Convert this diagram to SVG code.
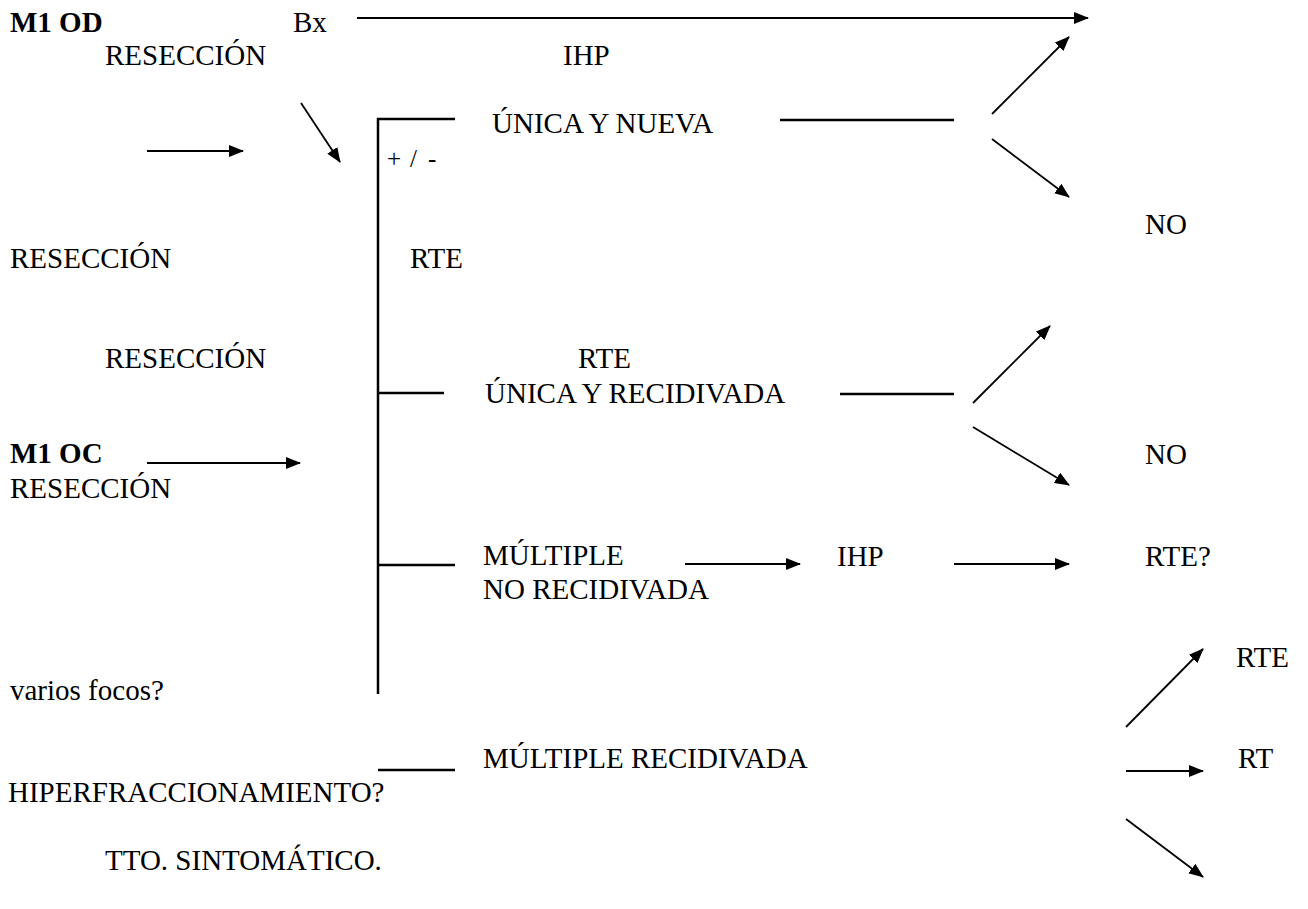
<svg xmlns="http://www.w3.org/2000/svg" width="1308" height="909" viewBox="0 0 1308 909" font-family="'Liberation Serif', 'Times New Roman', Times, serif" font-size="29">
<style>
text{font-family:'Liberation Serif','Times New Roman',Times,serif;fill:#000}
.b{font-weight:bold}
.s{font-size:25px}
.ln{stroke:#000;stroke-width:2.5;fill:none}
.ar{stroke:#000;stroke-width:1.8;fill:none;marker-end:url(#ah)}
</style>
<defs>
<marker id="ah" markerUnits="userSpaceOnUse" markerWidth="15" markerHeight="12" viewBox="0 0 15 12" refX="14" refY="6" orient="auto">
<path d="M0,0 L15,6 L0,12 Z" fill="#000"/>
</marker>
</defs>
<rect width="1308" height="909" fill="#fff"/>
<g id="n-m1od"><text x="10" y="32" class="b">M1 OD</text></g>
<g id="n-bx"><text x="293" y="32">Bx</text></g>
<g id="n-res1"><text x="105" y="65">RESECCIÓN</text></g>
<g id="n-ihp1"><text x="563" y="65">IHP</text></g>
<g id="n-unica-nueva"><text x="492" y="133">ÚNICA Y NUEVA</text></g>
<g id="n-pm"><text y="167" class="s"><tspan x="387">+</tspan><tspan x="410">/</tspan><tspan x="428">-</tspan></text></g>
<g id="n-no1"><text x="1145" y="234">NO</text></g>
<g id="n-res2"><text x="10" y="268">RESECCIÓN</text></g>
<g id="n-rte1"><text x="410" y="268">RTE</text></g>
<g id="n-res3"><text x="105" y="368">RESECCIÓN</text></g>
<g id="n-rte2"><text x="578" y="368">RTE</text></g>
<g id="n-unica-rec"><text x="485" y="403">ÚNICA Y RECIDIVADA</text></g>
<g id="n-no2"><text x="1145" y="464">NO</text></g>
<g id="n-m1oc"><text x="10" y="463" class="b">M1 OC</text></g>
<g id="n-res4"><text x="10" y="498">RESECCIÓN</text></g>
<g id="n-mult-norec"><text x="483" y="565">MÚLTIPLE</text><text x="483" y="599">NO RECIDIVADA</text></g>
<g id="n-ihp2"><text x="837" y="566">IHP</text></g>
<g id="n-rteq"><text x="1145" y="566">RTE?</text></g>
<g id="n-rte3"><text x="1236" y="667">RTE</text></g>
<g id="n-varios"><text x="10" y="700">varios focos?</text></g>
<g id="n-mult-rec"><text x="483" y="768">MÚLTIPLE RECIDIVADA</text></g>
<g id="n-rt"><text x="1238" y="768">RT</text></g>
<g id="n-hiper"><text x="8" y="802">HIPERFRACCIONAMIENTO?</text></g>
<g id="n-tto"><text x="105" y="870">TTO. SINTOMÁTICO.</text></g>
<g id="connectors">
<line class="ar" x1="357" y1="18" x2="1088" y2="18"/>
<line class="ar" x1="301" y1="103" x2="340" y2="162"/>
<line class="ar" x1="147" y1="151" x2="243" y2="151"/>
<line class="ln" x1="378" y1="118" x2="378" y2="694"/>
<line class="ln" x1="377" y1="119" x2="455" y2="119"/>
<line class="ln" x1="780" y1="120" x2="954" y2="120"/>
<line class="ar" x1="992" y1="114" x2="1069" y2="37"/>
<line class="ar" x1="992" y1="139" x2="1069" y2="197"/>
<line class="ln" x1="378" y1="393" x2="444" y2="393"/>
<line class="ln" x1="840" y1="394" x2="954" y2="394"/>
<line class="ar" x1="973" y1="403" x2="1050" y2="326"/>
<line class="ar" x1="973" y1="427" x2="1069" y2="485"/>
<line class="ar" x1="147" y1="463" x2="300" y2="463"/>
<line class="ln" x1="378" y1="565" x2="455" y2="565"/>
<line class="ar" x1="685" y1="564" x2="800" y2="564"/>
<line class="ar" x1="954" y1="564" x2="1069" y2="564"/>
<line class="ar" x1="1126" y1="727" x2="1203" y2="649"/>
<line class="ln" x1="378" y1="770" x2="455" y2="770"/>
<line class="ar" x1="1126" y1="771" x2="1203" y2="771"/>
<line class="ar" x1="1126" y1="819" x2="1203" y2="877"/>
</g>
</svg>
